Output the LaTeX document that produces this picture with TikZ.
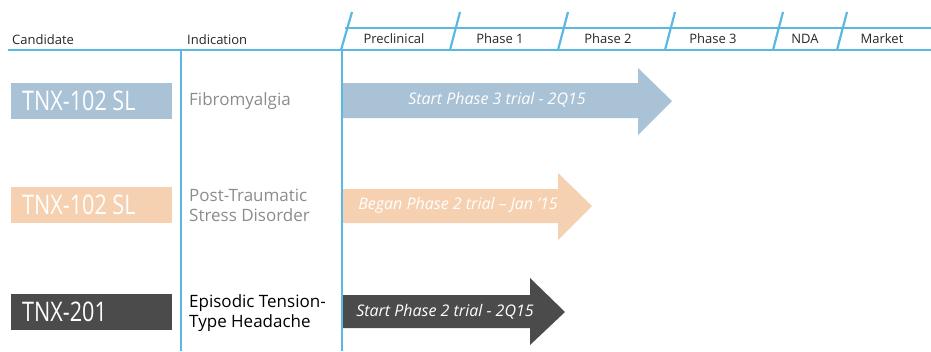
\documentclass[tikz,border=0pt]{standalone}
\usepackage{fontspec}
\setmainfont{Open Sans}
\usetikzlibrary{positioning}
\definecolor{lineblue}{HTML}{5AB8E2}
\definecolor{steel}{HTML}{AAC2D6}
\definecolor{peach}{HTML}{F6D1B1}
\definecolor{charcoal}{HTML}{4B4B4B}
\definecolor{greytext}{HTML}{8C8C8C}

\begin{document}
\begin{tikzpicture}[x=1pt,y=-1pt,
  grid line/.style={draw=lineblue,line width=2.2pt},
  head text/.style={inner sep=0pt,text=black!85,font=\fontsize{13}{15}\selectfont},
  cand box/.style={rectangle,anchor=west,minimum width=161pt,minimum height=36pt,inner sep=0pt},
  cand text/.style={inner sep=0pt,xscale=0.8,text=white,font=\fontsize{27}{30}\selectfont},
  ind text/.style={inner sep=0pt,anchor=west,align=left,font=\fontsize{17}{20}\selectfont},
  bar text/.style={inner sep=0pt,text=white,font=\itshape\fontsize{16}{18}\selectfont}]
  \useasboundingbox (0,0) rectangle (931,351);

  % column heads
  \node [head text,anchor=west] (candidate) at (12,40) {Candidate};
  \node [head text,anchor=west] (indication) at (187,40) {Indication};
  \node [head text] (preclin) at (394,39) {Preclinical};
  \node [head text] (phaseone) at (500,39) {Phase 1};
  \node [head text] (phasetwo) at (608,39) {Phase 2};
  \node [head text] (phasethree) at (713,39) {Phase 3};
  \node [head text] (nda) at (805,39) {NDA};
  \node [head text] (market) at (882,39) {Market};

  % candidates
  \node [cand box,fill=steel] (fibrobox) at (11,101) {};
  \node [cand box,fill=peach] (ptsdbox) at (11,205) {};
  \node [cand box,fill=charcoal] (tthbox) at (11,312) {};
  \node [cand text,anchor=west] (fibroname) at (22,101) {TNX-102 SL};
  \node [cand text,anchor=west] (ptsdname) at (22,205) {TNX-102 SL};
  \node [cand text,anchor=west] (tthname) at (22,312) {TNX-201};

  % indications
  \node [ind text,text=greytext] (fibro) at (189,101) {Fibromyalgia};
  \node [ind text,text=greytext] (ptsd) at (189,205) {Post-Traumatic\\Stress Disorder};
  \node [ind text,text=black] (tth) at (189,313) {Episodic Tension-\\Type Headache};

  % progress bars
  \fill [steel] (343,83) -- (638,83) -- (638,68) -- (672,101) -- (638,135) -- (638,118) -- (343,118) -- cycle;
  \fill [peach] (343,189) -- (558,189) -- (558,173) -- (592,206) -- (558,240) -- (558,223) -- (343,223) -- cycle;
  \fill [charcoal] (343,295) -- (530,295) -- (530,278) -- (565,312) -- (530,345) -- (530,328) -- (343,328) -- cycle;
  \node [bar text] (fibrobar) at (497,100) {Start Phase 3 trial - 2Q15};
  \node [bar text] (ptsdbar) at (458,205) {Began Phase 2 trial -- Jan '15};
  \node [bar text] (tthbar) at (445,312) {Start Phase 2 trial - 2Q15};

  % grid
  \draw [grid line] (8,50) -- (931,50);
  \draw [grid line] (345,28) -- (931,28);
  \draw [grid line] (181,50) -- (181,351);
  \draw [grid line] (342,50) -- (342,351);
  \draw [grid line] (341,50) -- (352,12);
  \draw [grid line] (450,50) -- (460,12);
  \draw [grid line] (558,50) -- (568,12);
  \draw [grid line] (665,50) -- (675,12);
  \draw [grid line] (773,50) -- (783,12);
  \draw [grid line] (837,50) -- (847,12);
\end{tikzpicture}
\end{document}
